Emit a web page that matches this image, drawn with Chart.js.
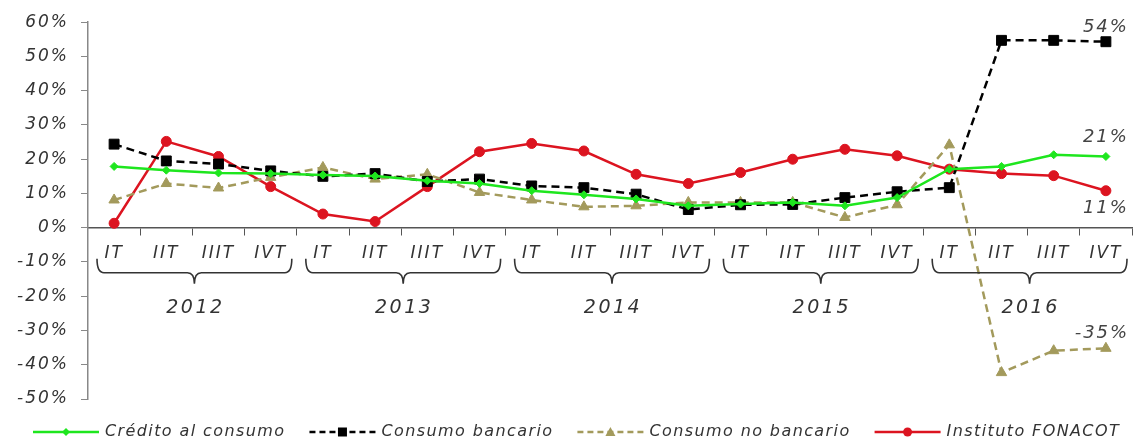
<!DOCTYPE html>
<html>
<head>
<meta charset="utf-8">
<script src="https://cdn.jsdelivr.net/npm/chart.js@4.4.1/dist/chart.umd.min.js"></script>
<style>
    html, body { margin: 0; padding: 0; background: #fff; }
    #wrap { width: 1142px; height: 438px; }
</style>
</head>
<body>
<div id="wrap"><canvas id="chartCanvas"></canvas></div>
<script>
// categories
const years = ["2012", "2013", "2014", "2015", "2016"];
const quarters = ["IT", "IIT", "IIIT", "IVT"];

// series (% annual growth)
const credito    = [17.9, 16.8, 16.0, 15.8, 15.4, 15.1, 13.7, 12.9, 10.8, 9.6, 8.4, 6.4, 6.9, 7.4, 6.4, 8.8, 17.1, 17.9, 21.3, 20.8];
const bancario   = [24.4, 19.5, 18.6, 16.6, 15.0, 15.8, 13.5, 14.2, 12.2, 11.7, 9.8, 5.3, 6.7, 6.8, 8.8, 10.5, 11.7, 54.7, 54.7, 54.3];
const noBancario = [8.1, 12.9, 11.6, 14.7, 17.6, 14.2, 15.6, 10.3, 8.1, 6.1, 6.4, 7.4, 7.4, 7.4, 3.0, 6.7, 24.2, -42.3, -35.9, -35.2];
const fonacot    = [1.3, 25.2, 20.8, 12.0, 4.0, 1.8, 12.0, 22.2, 24.6, 22.4, 15.6, 12.9, 16.1, 20.0, 22.9, 21.0, 17.1, 15.8, 15.2, 10.8];

// y axis range
const yMin = -50;
const yMax = 60;
const yStep = 10;

const labels = years.flatMap(() => quarters);

const FONT = "'DejaVu Sans', sans-serif";
const TEXT = "#333";

const series = [
    { label: "Crédito al consumo", data: credito, color: "#1ee61e", dash: [], style: "rectRot", radius: 4 },
    { label: "Consumo bancario", data: bancario, color: "#000000", dash: [8, 5], style: "rect", radius: 7 },
    { label: "Consumo no bancario", data: noBancario, color: "#a39a5c", dash: [8, 5], style: "triangle", radius: 6 },
    { label: "Instituto FONACOT", data: fonacot, color: "#dc1420", dash: [], style: "circle", radius: 5 }
];

// end-of-series labels: [dataset index, dx, dy]
const endLabels = [[1, 0, -14], [0, 0, -19], [3, 0, 18], [2, -4, -15]];

function drawMarker(g, style, x, y) {
    g.beginPath();
    if (style === "rect") {
        g.rect(x - 4.5, y - 4.5, 9, 9);
    } else if (style === "circle") {
        g.arc(x, y, 4.5, 0, Math.PI * 2);
    } else if (style === "triangle") {
        g.moveTo(x, y - 5); g.lineTo(x + 5, y + 4); g.lineTo(x - 5, y + 4); g.closePath();
    } else {
        g.moveTo(x, y - 4); g.lineTo(x + 4, y); g.lineTo(x, y + 4); g.lineTo(x - 4, y); g.closePath();
    }
    g.fill();
}

const spacingPlugin = {
    id: "spacing",
    beforeUpdate(chart) { chart.ctx.letterSpacing = "2px"; },
    beforeDraw(chart) { chart.ctx.letterSpacing = "2px"; }
};

const extrasPlugin = {
    id: "extras",
    afterDraw(chart) {
        const ctx = chart.ctx;
        const x = chart.scales.x;
        const y = chart.scales.y;
        const half = (x.getPixelForValue(1) - x.getPixelForValue(0)) / 2;
        const y0 = y.getPixelForValue(0);
        const top = y0 + 31, mid = y0 + 45, tip = y0 + 56, r = 7;

        ctx.save();
        // year braces
        ctx.strokeStyle = "#333";
        ctx.lineWidth = 1.6;
        years.forEach((yr, g) => {
            const L = x.getPixelForValue(g * 4) - half + 9;
            const R = x.getPixelForValue(g * 4 + 3) + half - 5;
            const M = (L + R) / 2;
            ctx.beginPath();
            ctx.moveTo(L, top);
            ctx.quadraticCurveTo(L, mid, L + r, mid);
            ctx.lineTo(M - r, mid);
            ctx.quadraticCurveTo(M, mid, M, tip);
            ctx.quadraticCurveTo(M, mid, M + r, mid);
            ctx.lineTo(R - r, mid);
            ctx.quadraticCurveTo(R, mid, R, top);
            ctx.stroke();

            ctx.fillStyle = TEXT;
            ctx.font = "italic 19px " + FONT;
            ctx.letterSpacing = "2.5px";
            ctx.textAlign = "center";
            ctx.textBaseline = "middle";
            ctx.fillText(yr, M + 1, y0 + 80);
        });

        // end values
        ctx.font = "italic 18px " + FONT;
        ctx.letterSpacing = "2px";
        ctx.fillStyle = "#444";
        endLabels.forEach(([di, dx, dy]) => {
            const meta = chart.getDatasetMeta(di);
            const pt = meta.data[meta.data.length - 1];
            const v = series[di].data[series[di].data.length - 1];
            ctx.fillText(Math.round(v) + "%", pt.x + dx, pt.y + dy);
        });

        // legend
        const ly = 432;
        let lx = 33;
        ctx.font = "italic 16px " + FONT;
        ctx.letterSpacing = "1.4px";
        ctx.textAlign = "left";
        series.forEach(s => {
            ctx.strokeStyle = s.color;
            ctx.fillStyle = s.color;
            ctx.lineWidth = 2.5;
            ctx.setLineDash(s.dash.length ? [6, 4] : []);
            ctx.beginPath();
            ctx.moveTo(lx, ly);
            ctx.lineTo(lx + 66, ly);
            ctx.stroke();
            ctx.setLineDash([]);
            drawMarker(ctx, s.style, lx + 33, ly);
            ctx.fillStyle = TEXT;
            ctx.fillText(s.label, lx + 72, ly);
            lx += 72 + ctx.measureText(s.label).width + 24;
        });
        ctx.restore();
    }
};

const ctx = document.getElementById("chartCanvas").getContext("2d");

new Chart(ctx, {
    type: "line",
    data: {
        labels: labels,
        datasets: series.map(s => ({
            label: s.label,
            data: s.data,
            borderColor: s.color,
            backgroundColor: s.color,
            borderWidth: 2.5,
            borderDash: s.dash,
            pointStyle: s.style,
            pointRadius: s.radius,
            pointBorderWidth: 1,
            tension: 0,
            fill: false
        }))
    },
    options: {
        responsive: true,
        maintainAspectRatio: false,
        animation: false,
        layout: { padding: { top: 21, right: 10, left: 0, bottom: 39 } },
        plugins: {
            tooltip: { enabled: false },
            legend: { display: false }
        },
        scales: {
            x: {
                position: { y: 0 },
                offset: true,
                grid: { offset: true, drawOnChartArea: false, tickLength: 7, color: "#555" },
                border: { color: "#555", width: 1.5 },
                ticks: {
                    autoSkip: false,
                    maxRotation: 0,
                    padding: 9,
                    color: TEXT,
                    font: { family: FONT, size: 17, style: "italic" }
                }
            },
            y: {
                min: yMin,
                max: yMax,
                afterFit(scale) { scale.width = 88; },
                grid: { drawOnChartArea: false, tickLength: 7, color: "#888" },
                border: { color: "#888", width: 1.5 },
                ticks: {
                    stepSize: yStep,
                    padding: 12,
                    color: TEXT,
                    font: { family: FONT, size: 17, style: "italic" },
                    callback: v => v + "%"
                }
            }
        }
    },
    plugins: [spacingPlugin, extrasPlugin]
});
</script>
</body>
</html>
